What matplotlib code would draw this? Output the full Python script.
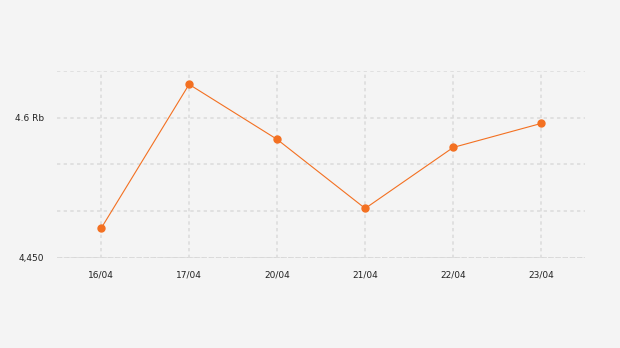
import matplotlib.pyplot as plt

# data
tanggal = ['16/04', '17/04', '20/04', '21/04', '22/04', '23/04']
harga = [4481.5, 4635.7, 4576.8, 4502.9, 4568.2, 4593.9]
grid_y = [4450, 4500, 4550, 4600, 4650]
label_y = {4450: '4,450', 4600: '4.6 Rb'}

fig = plt.figure(figsize=(6.2, 3.48), dpi=100)
fig.patch.set_facecolor('#f4f4f4')
ax = fig.add_axes([0.092, 0.259, 0.852, 0.537])
ax.set_facecolor('#f4f4f4')

x = list(range(len(tanggal)))
ax.plot(x, harga, color='#f37021', linewidth=0.8, marker='o',
        markersize=5, markerfacecolor='#f37021', markeredgecolor='#f37021',
        zorder=3)

ax.set_xlim(-0.5, len(tanggal) - 0.5)
ax.set_ylim(4450, 4650)
ax.set_xticks(x)
ax.set_xticklabels(tanggal)
ax.set_yticks(grid_y)
ax.set_yticklabels([label_y.get(v, '') for v in grid_y])

ax.grid(True, color='#dcdcdc', linestyle=(0, (2, 2)), linewidth=1.2, zorder=0)
# garis dasar sedikit lebih rapat
ax.axhline(4450, color='#d6d6d6', linestyle=(0, (3, 1)), linewidth=1.3, zorder=1)
for s in ax.spines.values():
    s.set_visible(False)
ax.tick_params(length=0, labelsize=6.5, labelcolor='#222222')
ax.tick_params(axis='x', pad=9)
ax.tick_params(axis='y', pad=9.5)

plt.savefig('out.png', dpi=100, facecolor=fig.get_facecolor())
